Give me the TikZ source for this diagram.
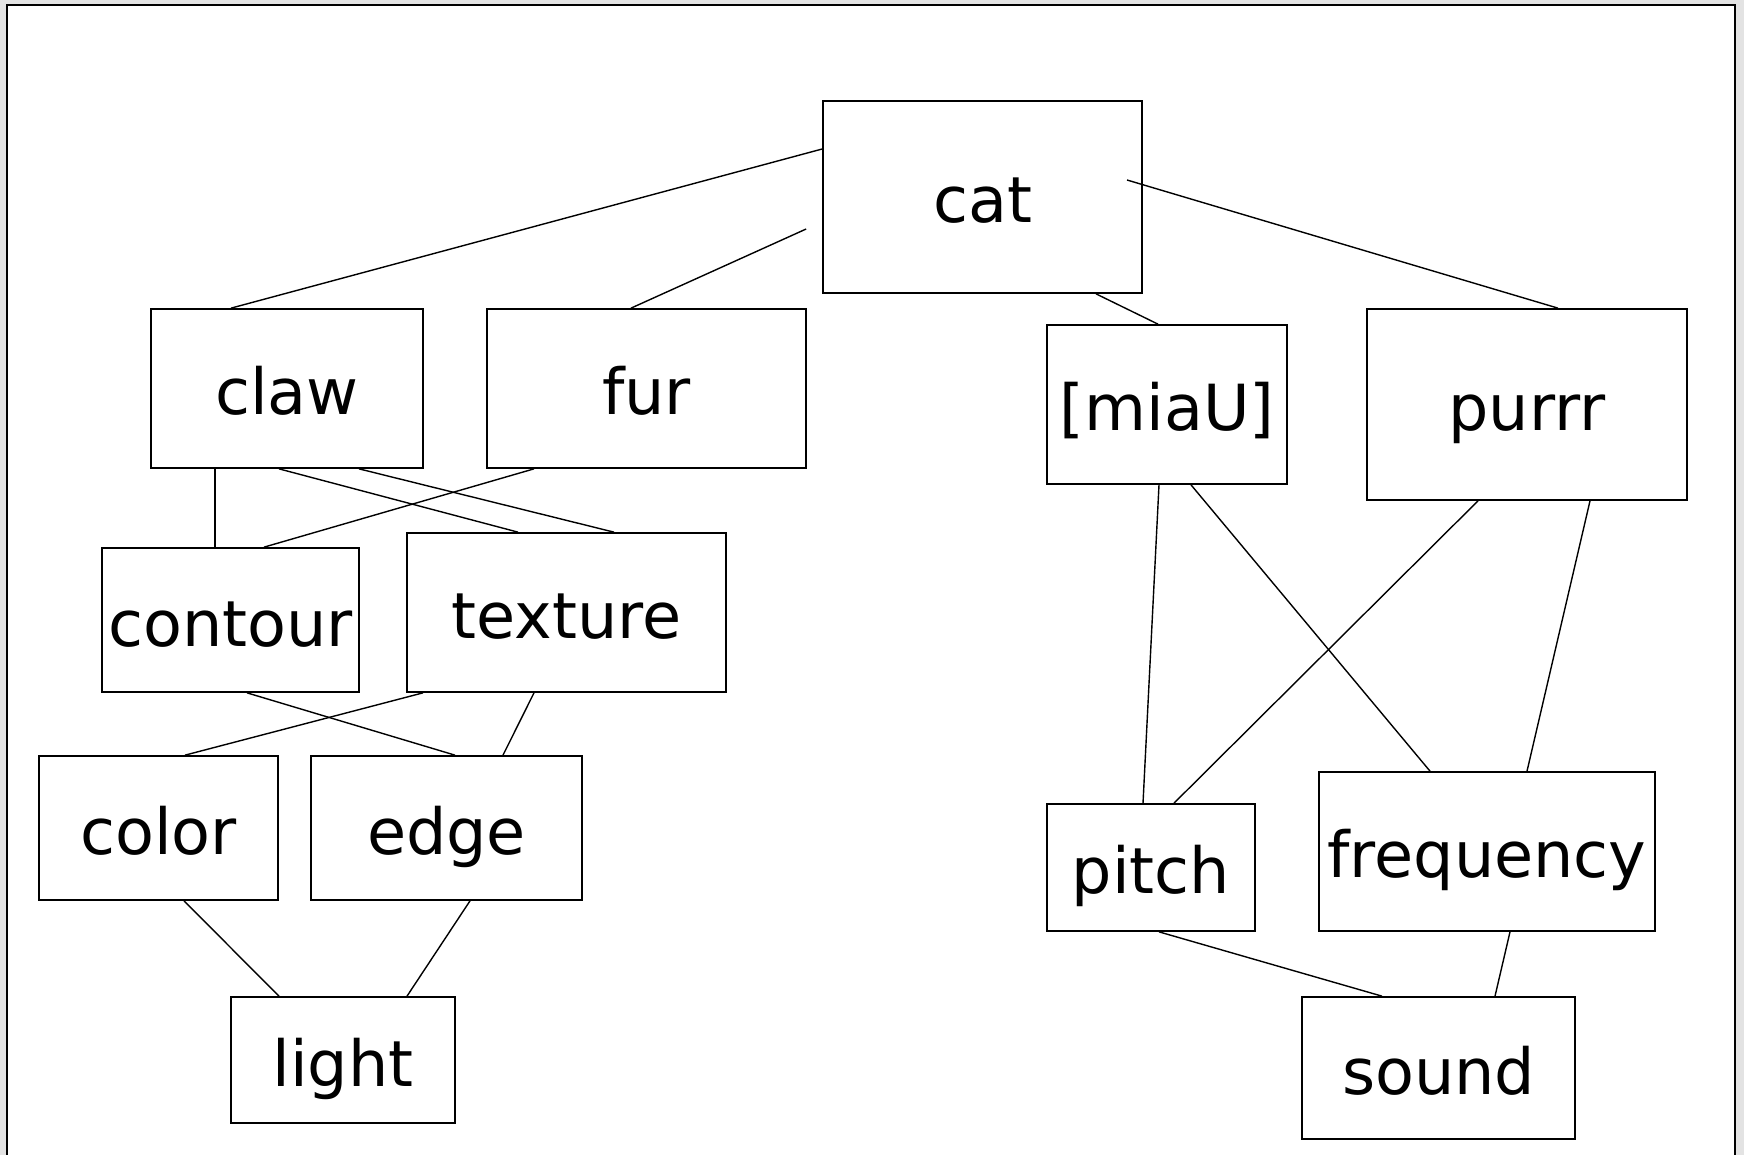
\documentclass[tikz,border=0pt]{standalone}
\usepackage{fontspec}
\setmainfont{DejaVu Sans}
\usetikzlibrary{positioning,calc}

\tikzset{
  word/.style={draw, rectangle, line width=.85pt, inner sep=0pt, text height=26pt, text depth=0pt,
    font=\fontsize{31.8}{38}\selectfont},
  link/.style={line width=.7pt},
}

\begin{document}
\begin{tikzpicture}[x=.5pt,y=-.5pt]
\useasboundingbox (0,0) rectangle (1744,1155);
\fill[gray!22] (0,0) rectangle (1744,1155);
\draw[fill=white, line width=1pt] (6.7,5) rectangle (1735,1175);

% top
\node[word, minimum width=159.5pt, minimum height=96pt] (cat) at (982.5,197) {cat};

% seeing
\node[word, minimum width=136pt, minimum height=79.5pt] (claw) at (287,388.5) {claw};
\node[word, minimum width=159.5pt, minimum height=79.5pt] (fur) at (646.5,388.5) {fur};
\node[word, minimum width=128.5pt, minimum height=72pt] (contour) at (230.5,620) {contour};
\node[word, minimum width=159.5pt, minimum height=79.5pt] (texture) at (566.5,612.5) {texture};
\node[word, minimum width=119.5pt, minimum height=72pt] (color) at (158.5,828) {color};
\node[word, minimum width=135.5pt, minimum height=72pt] (edge) at (446.5,828) {edge};
\node[word, minimum width=112pt, minimum height=63pt] (light) at (343,1060) {light};

% hearing
\node[word, minimum width=120pt, minimum height=79.5pt] (miau) at (1167,404.5) {[miaU]};
\node[word, minimum width=160pt, minimum height=95.5pt] (purrr) at (1527,404.5) {purrr};
\node[word, minimum width=104pt, minimum height=63.5pt] (pitch) at (1151,867.5) {pitch};
\node[word, minimum width=168pt, minimum height=79.5pt] (freq) at (1487,851.5) {frequency};
\node[word, minimum width=136.5pt, minimum height=71pt] (sound) at (1438.5,1068) {sound};

% links
\draw[link] ($(cat.west)+(0,-48)$) -- ($(claw.north)+(-56,0)$);
\draw[link] ($(cat.west)+(-16,32)$) -- ($(fur.north)+(-15.5,0)$);
\draw[link] ($(cat.center)+(144.5,-17)$) -- ($(purrr.north)+(31,0)$);
\draw[link] ($(cat.south)+(113.5,0)$) -- ($(miau.north)+(-9,0)$);

\draw[link] ($(claw.south)+(-72,0)$) -- ($(contour.north)+(-15.5,0)$);
\draw[link] ($(claw.south)+(-8,0)$) -- ($(texture.north)+(-48.5,0)$);
\draw[link] ($(claw.south)+(72,0)$) -- ($(texture.north)+(47.5,0)$);
\draw[link] ($(fur.south)+(-112.5,0)$) -- ($(contour.north)+(33.5,0)$);
\draw[link] ($(contour.south)+(16.5,0)$) -- ($(edge.north)+(8.5,0)$);
\draw[link] ($(texture.south)+(-143.5,0)$) -- ($(color.north)+(26.5,0)$);
\draw[link] ($(texture.south)+(-32.5,0)$) -- ($(edge.north)+(56.5,0)$);
\draw[link] ($(color.south)+(25.5,0)$) -- ($(light.north)+(-64,0)$);
\draw[link] ($(edge.south)+(23.5,0)$) -- ($(light.north)+(64,0)$);

\draw[link] ($(miau.south)+(-8,0)$) -- ($(pitch.north)+(-8,0)$);
\draw[link] ($(miau.south)+(24,0)$) -- ($(freq.north)+(-57,0)$);
\draw[link] ($(purrr.south)+(-49,0)$) -- ($(pitch.north)+(23,0)$);
\draw[link] ($(purrr.south)+(63,0)$) -- ($(freq.north)+(40,0)$);
\draw[link] ($(pitch.south)+(8,0)$) -- ($(sound.north)+(-56.5,0)$);
\draw[link] ($(freq.south)+(23,0)$) -- ($(sound.north)+(56.5,0)$);
\end{tikzpicture}
\end{document}
